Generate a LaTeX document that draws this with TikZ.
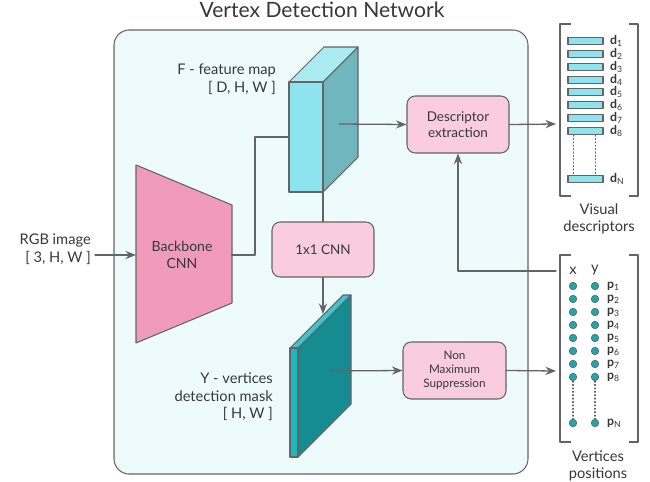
\documentclass[tikz,border=0pt]{standalone}
\usepackage{fontspec}
\setmainfont{Lato}
\usetikzlibrary{positioning,calc,arrows.meta}

\begin{document}
\begin{tikzpicture}[
		x=0.03cm,y=-0.03cm,
		>={Stealth[length=9pt,width=7pt]},
		line cap=round,line join=round,
		font=\small
		]
		% ---- colors
		\definecolor{lineGray}{RGB}{100,100,100}
		\definecolor{txtGray}{RGB}{55,55,60}
		\definecolor{bgCyan}{RGB}{238,251,252}
		\definecolor{boxPink}{RGB}{249,204,223}
		\definecolor{bbPink}{RGB}{241,155,188}
		\definecolor{fmFront}{RGB}{142,228,238}
		\definecolor{fmTop}{RGB}{170,236,242}
		\definecolor{fmSide}{RGB}{112,182,190}
		\definecolor{mkFront}{RGB}{28,182,190}
		\definecolor{mkTop}{RGB}{62,198,206}
		\definecolor{mkSide}{RGB}{20,140,146}
		\definecolor{dotTeal}{RGB}{30,168,174}
		
		\tikzset{
			procbox/.style={draw=lineGray, fill=boxPink, rounded corners=7pt, line width=0.9pt, align=center, text=txtGray, inner sep=0pt},
			flow/.style={lineGray, ->, line width=1.1pt},
			wire/.style={lineGray, line width=1.1pt},
			lbl/.style={font=\fontsize{12.5}{15}\selectfont, text=txtGray, inner sep=0pt},
			descbar/.style={draw=lineGray, fill=fmFront, line width=0.9pt, minimum width=35*0.03cm, minimum height=7*0.03cm, inner sep=0pt},
			vdot/.style={circle, draw=lineGray, fill=dotTeal, line width=0.6pt, minimum size=7.5*0.03cm, inner sep=0pt},
			vname/.style={font=\fontsize{10.5}{11}\selectfont\bfseries, text=txtGray, anchor=west, inner sep=0pt},
			bracket/.style={lineGray, line width=0.9pt, line cap=butt}
		}
		
		% ---- parameters (pixel units)
		\def\fmL{289}  \def\fmR{323}  \def\fmT{82}  \def\fmB{192} \def\fmD{35}
		\def\mkL{290}  \def\mkR{298}  \def\mkT{348} \def\mkB{457} \def\mkD{53}
		
		\useasboundingbox (0,0) rectangle (650,482);
		
		% ---- network frame + title
		\draw[lineGray, fill=bgCyan, line width=0.9pt, rounded corners=13pt] (114,30) rectangle (528,474);
		\node[lbl, font=\fontsize{18}{20}\selectfont] (title) at (322,10) {Vertex Detection Network};
		
		% ---- input
		\node[lbl, align=right, anchor=east] (rgb) at (91,249) {RGB image\\{[} 3, H, W ]};
		\coordinate (rgbOut) at (95,255);
		
		% ---- backbone (trapezium)
		\draw[lineGray, fill=bbPink, line width=0.9pt] (136,165) -- (232,205) -- (232,303) -- (136,343) -- cycle;
		\node[lbl, font=\fontsize{12}{14.5}\selectfont, align=center] (bb) at (182,255) {Backbone\\CNN};
		\coordinate (bbIn) at (136,255);
		\coordinate (bbOut) at (232,255);
		
		% ---- feature map cuboid
		\draw[lineGray, fill=fmTop, line width=0.9pt] (\fmL,\fmT) -- ({\fmL+\fmD},{\fmT-\fmD}) -- ({\fmR+\fmD},{\fmT-\fmD}) -- (\fmR,\fmT) -- cycle;
		\draw[lineGray, fill=fmSide, line width=0.9pt] (\fmR,\fmT) -- ({\fmR+\fmD},{\fmT-\fmD}) -- ({\fmR+\fmD},{\fmB-\fmD}) -- (\fmR,\fmB) -- cycle;
		\draw[lineGray, fill=fmFront, line width=0.9pt] (\fmL,\fmT) rectangle (\fmR,\fmB);
		\coordinate (fmIn) at (\fmL,137);
		\coordinate (fmOut) at (339,124);
		\coordinate (fmBot) at (\fmR,\fmB);
		\node[lbl, align=right, anchor=east] (fmLab) at (276,79) {F - feature map\\{[} D, H, W ]};
		
		% ---- 1x1 CNN
		\node[procbox, minimum width=102*0.03cm, minimum height=55*0.03cm, font=\fontsize{11.5}{14}\selectfont] (cnn) at (323,249.5) {1x1 CNN};
		
		% ---- vertices mask (thin slab)
		\draw[lineGray, fill=mkTop, line width=0.9pt] (\mkL,\mkT) -- ({\mkL+\mkD},{\mkT-\mkD}) -- ({\mkR+\mkD},{\mkT-\mkD}) -- (\mkR,\mkT) -- cycle;
		\draw[lineGray, fill=mkSide, line width=0.9pt] (\mkR,\mkT) -- ({\mkR+\mkD},{\mkT-\mkD}) -- ({\mkR+\mkD},{\mkB-\mkD}) -- (\mkR,\mkB) -- cycle;
		\draw[lineGray, fill=mkFront, line width=0.9pt] (\mkL,\mkT) rectangle (\mkR,\mkB);
		\coordinate (mkIn) at (323,314);
		\coordinate (mkOut) at (331,371);
		\node[lbl, align=right, anchor=east] (mkLab) at (273,397) {Y - vertices\\detection mask\\{[} H, W ]};
		
		% ---- processing boxes
		\node[procbox, minimum width=102*0.03cm, minimum height=57*0.03cm, font=\fontsize{11.5}{14}\selectfont] (desc) at (458,124.5) {Descriptor\\extraction};
		\node[procbox, minimum width=103*0.03cm, minimum height=57*0.03cm, font=\fontsize{10}{12}\selectfont] (nms) at (454.5,370.5) {Non\\Maximum\\Suppression};
		
		% ---- visual descriptors
		\draw[bracket] (571,24) -- (560,24) -- (560,196) -- (571,196);
		\draw[bracket] (629,24) -- (638,24) -- (638,196) -- (629,196);
		\foreach \i in {1,...,8}{
			\pgfmathsetmacro{\yc}{41+(\i-1)*12.85}
			\node[descbar] (bar\i) at (585.5,\yc) {};
			\node[vname] (dlab\i) at (610,\yc) {d\textsubscript{\mdseries\i}};
		}
		\node[descbar] (barN) at (585.5,179) {};
		\node[vname] (dlabN) at (610,179) {d\textsubscript{\mdseries N}};
		\draw[lineGray, dotted, line width=0.9pt] ($(bar8.south)+(-12,0)$) -- ($(barN.north)+(-12,0)$);
		\draw[lineGray, dotted, line width=0.9pt] ($(bar8.south)+(10,0)$) -- ($(barN.north)+(10,0)$);
		\node[lbl] [align=center] (dTxt) at (599,219) {Visual\\descriptors};
		\coordinate (dIn) at (556,124);
		
		% ---- vertices positions
		\draw[bracket] (571,255) -- (560,255) -- (560,442) -- (571,442);
		\draw[bracket] (629,255) -- (638,255) -- (638,442) -- (629,442);
		\node[lbl] (xh) at (573,271) {x};
		\node[lbl] (yh) at (595,270) {y};
		\foreach \i in {1,...,8}{
			\pgfmathsetmacro{\yc}{286+(\i-1)*13}
			\node[vdot] (px\i) at (573,\yc) {};
			\node[vdot] (py\i) at (595,\yc) {};
			\node[vname] (plab\i) at (607,\yc) {p\textsubscript{\mdseries\i}};
		}
		\node[vdot] (pxN) at (573,423) {};
		\node[vdot] (pyN) at (595,423) {};
		\node[vname] (plabN) at (607,423) {p\textsubscript{\mdseries N}};
		\draw[lineGray, dotted, line width=0.9pt] (px8) -- (pxN);
		\draw[lineGray, dotted, line width=0.9pt] (py8) -- (pyN);
		\node[lbl, align=center] (pTxt) at (598,466) {Vertices\\positions};
		\coordinate (pIn) at (556,371);
		\coordinate (pOut) at (556,271);
		
		% ---- connectors
		\draw[flow] (rgbOut) -- (bbIn);
		\draw[wire] (bbOut) -- ++(23,0) |- (fmIn);
		\draw[flow] (fmOut) -- (desc.west);
		\draw[wire] (fmBot) -- (cnn.north);
		\draw[flow] (cnn.south) -- (mkIn);
		\draw[flow] (mkOut) -- (nms.west);
		\draw[flow] (desc.east) -- (dIn);
		\draw[flow] (nms.east) -- (pIn);
		\draw[flow] (pOut) -| (desc.south);
		
	\end{tikzpicture}
\end{document}
